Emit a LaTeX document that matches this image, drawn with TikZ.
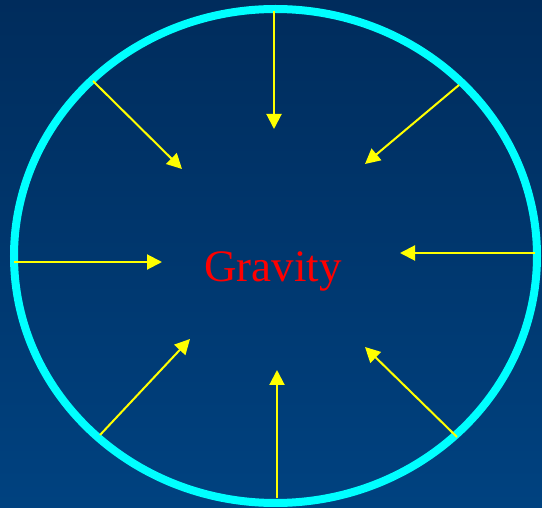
\documentclass[tikz,border=0pt]{standalone}
\usepackage{fontspec}
\setmainfont{Liberation Serif}
\usepackage{tikz}
\usetikzlibrary{arrows.meta,shapes.geometric}
\definecolor{skytop}{RGB}{0,44,92}
\definecolor{skybot}{RGB}{0,66,128}
\definecolor{rimcyan}{RGB}{0,255,255}
\definecolor{pullyellow}{RGB}{255,255,0}
\definecolor{gravred}{RGB}{255,0,0}
\begin{document}
\begin{tikzpicture}[
        x=1pt,
        y=-1pt,
        pull/.style={-{Triangle[length=15pt,width=15pt]}, draw=pullyellow, fill=pullyellow, line width=2pt},
        ring/.style={draw=rimcyan, line width=8pt, ellipse, inner sep=0pt},
        label/.style={text=gravred, font=\fontsize{45}{50}\selectfont, inner sep=0pt}
      ]
        \fill[top color=skytop, bottom color=skybot] (0,0) rectangle (542,508);
        \useasboundingbox (0,0) rectangle (542,508);

        \node[ring, minimum width=523pt, minimum height=494pt] (rim) at (275.5,256) {};
        \node[label] (grav) at (273,271) {Gravity};

        \coordinate (s1) at (274,11);   \coordinate (e1) at (274,129);
        \coordinate (s2) at (459,85);   \coordinate (e2) at (365,164);
        \coordinate (s3) at (535,253);  \coordinate (e3) at (400,253);
        \coordinate (s4) at (457,437);  \coordinate (e4) at (365,347);
        \coordinate (s5) at (277,498);  \coordinate (e5) at (277,370);
        \coordinate (s6) at (100,435);  \coordinate (e6) at (190,339);
        \coordinate (s7) at (14,262);   \coordinate (e7) at (162,262);
        \coordinate (s8) at (93,81);    \coordinate (e8) at (182,169);

        \foreach \k in {1,...,8} {
          \draw[pull] (s\k) -- (e\k);
        }
      \end{tikzpicture}
\end{document}
